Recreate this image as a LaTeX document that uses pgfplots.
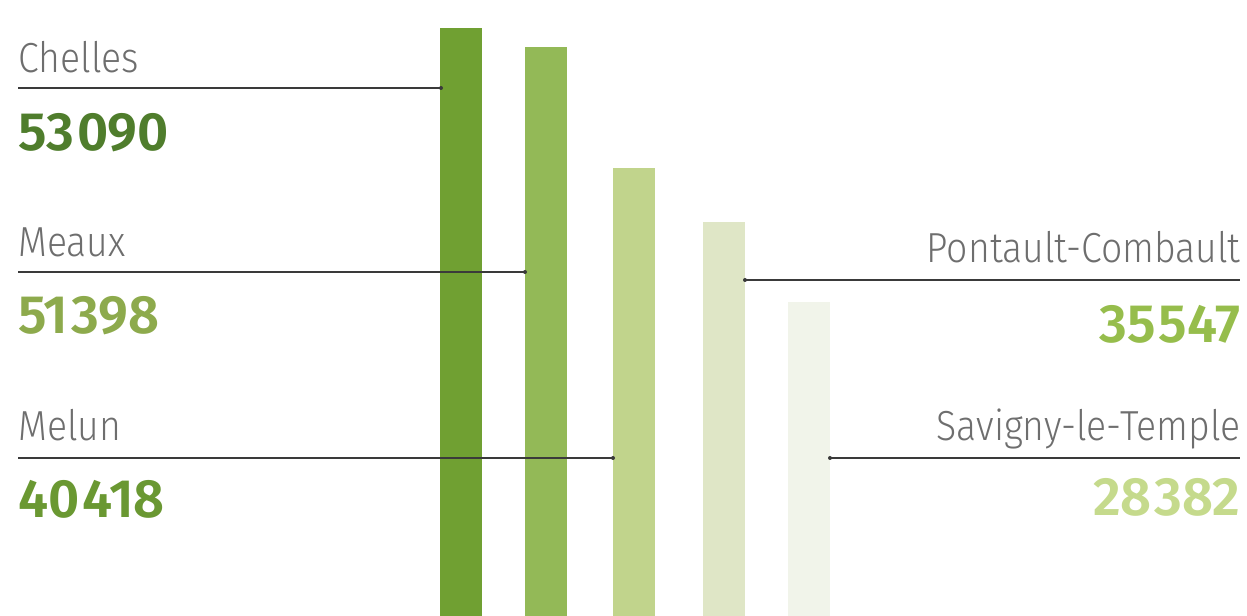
\documentclass[border=0pt]{standalone}
\usepackage{pgfplots}
\pgfplotsset{compat=1.18}
\usepackage{fontspec}
\newfontfamily\namefont{Fira Sans Light}[FakeStretch=0.89]
\newfontfamily\numfont{Fira Sans SemiBold}
\definecolor{barA}{HTML}{70A032}
\definecolor{barB}{HTML}{93B957}
\definecolor{barC}{HTML}{C1D48C}
\definecolor{barD}{HTML}{DFE6C6}
\definecolor{barE}{HTML}{F1F4EA}
\definecolor{numA}{HTML}{4F7D2C}
\definecolor{numB}{HTML}{8DAA4C}
\definecolor{numC}{HTML}{6A9832}
\definecolor{numD}{HTML}{96BD4C}
\definecolor{numE}{HTML}{C5DA8C}
\definecolor{txt}{HTML}{6E6E6E}
\definecolor{ln}{HTML}{3A3A3A}
\begin{document}
\begin{tikzpicture}
\begin{axis}[hide axis, scale only axis, width=623.5pt, height=308pt,
  xmin=0, xmax=1247, ymin=0, ymax=55636, ybar, bar width=21pt, clip=false]
\addplot[fill=barA, draw=none, bar shift=0pt] coordinates {(461,53090)};
\addplot[fill=barB, draw=none, bar shift=0pt] coordinates {(545.5,51398)};
\addplot[fill=barC, draw=none, bar shift=0pt] coordinates {(634.3,40418)};
\addplot[fill=barD, draw=none, bar shift=0pt] coordinates {(724.3,35547)};
\addplot[fill=barE, draw=none, bar shift=0pt] coordinates {(809,28382)};
\end{axis}
\begin{scope}[shift={(current axis.north west)}, x=0.5pt, y=-0.5pt]
\tikzset{nm/.style={inner sep=0pt, text=txt, font=\namefont\fontsize{21}{21}\selectfont},
         nb/.style={inner sep=0pt, font=\numfont\fontsize{27}{27}\selectfont}}
\draw[ln, line width=0.75pt] (18,88) -- (441,88);
\fill[ln] (441,88) circle (2);
\draw[ln, line width=0.75pt] (18,272) -- (525,272);
\fill[ln] (525,272) circle (2);
\draw[ln, line width=0.75pt] (18,458) -- (613,458);
\fill[ln] (613,458) circle (2);
\draw[ln, line width=0.75pt] (745,280) -- (1240,280);
\fill[ln] (745,280) circle (2);
\draw[ln, line width=0.75pt] (830,458) -- (1240,458);
\fill[ln] (830,458) circle (2);
\node[nm, anchor=base west] at (18,73) {Chelles};
\node[nb, anchor=base west, text=numA] at (18,151) {53\kern1.5pt090};
\node[nm, anchor=base west] at (18,257) {Meaux};
\node[nb, anchor=base west, text=numB] at (18,334) {51\kern1.5pt398};
\node[nm, anchor=base west] at (18,441) {Melun};
\node[nb, anchor=base west, text=numC] at (18,518) {40\kern1.5pt418};
\node[nm, anchor=base east] at (1241,263) {Pontault-Combault};
\node[nb, anchor=base east, text=numD] at (1241,343) {35\kern1.5pt547};
\node[nm, anchor=base east] at (1241,441) {Savigny-le-Temple};
\node[nb, anchor=base east, text=numE] at (1241,516) {28\kern1.5pt382};
\end{scope}
\pgfresetboundingbox
\path (current axis.south west) rectangle (current axis.north east);
\end{tikzpicture}
\end{document}
